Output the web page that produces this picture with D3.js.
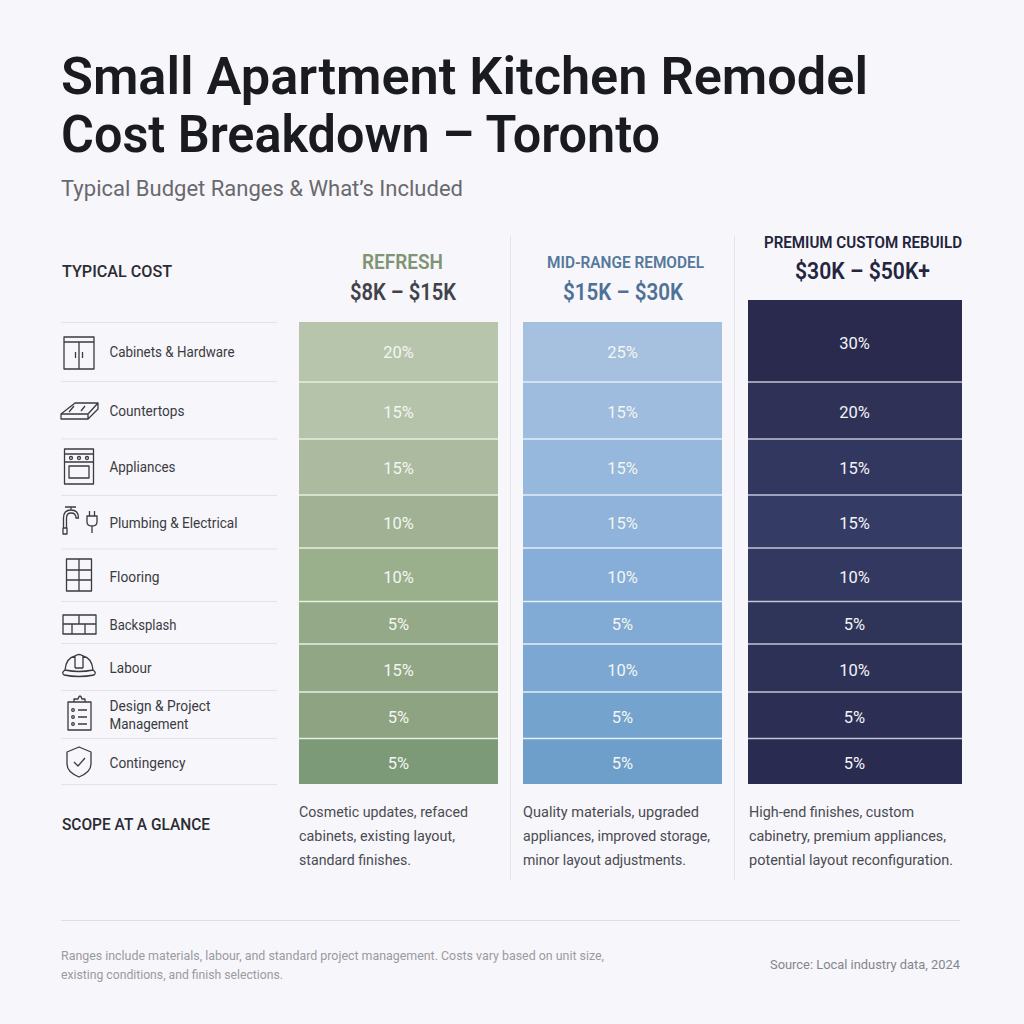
<!DOCTYPE html>
<html><head><meta charset="utf-8">
<script src="https://cdn.jsdelivr.net/npm/d3@7/dist/d3.min.js"></script>
<style>html,body{margin:0;padding:0;background:#f7f6fa}svg{display:block}text{font-family:Roboto,Inter,"Noto Sans",sans-serif}</style>
</head><body><svg id="c" width="1024" height="1024"></svg>
<script>
const categories=["Cabinets & Hardware","Countertops","Appliances","Plumbing & Electrical","Flooring","Backsplash","Labour","Design & Project|Management","Contingency"];
const refresh=[20,15,15,10,10,5,15,5,5];
const midRange=[25,15,15,15,10,5,10,5,5];
const premium=[30,20,15,15,10,5,10,5,5];
const tierNames=["REFRESH","MID-RANGE REMODEL","PREMIUM CUSTOM REBUILD"];
const tierCosts=["$8K – $15K","$15K – $30K","$30K – $50K+"];
const scopes=[["Cosmetic updates, refaced","cabinets, existing layout,","standard finishes."],["Quality materials, upgraded","appliances, improved storage,","minor layout adjustments."],["High-end finishes, custom","cabinetry, premium appliances,","potential layout reconfiguration."]];

const svg=d3.select("#c");
const rowEdges=[322,382,439,495,548,601.5,644,692,738.5,784];
const ruleEdges=[322.5,381.5,439,495.5,549,601.5,643.5,690.5,738.5,784.5];
const rowTop=d3.scaleOrdinal().domain(categories).range(rowEdges.slice(0,-1));
const rowBottom=d3.scaleOrdinal().domain(categories).range(rowEdges.slice(1));
const labelY=d3.scaleOrdinal().domain(categories).range([352,411,467,523,577,625,668,715,763]);
const pctY=d3.scaleOrdinal().domain(categories).range([352,412,468,523,577,624,670,717,763]);
const colX=d3.scaleOrdinal().domain(tierNames).range([299,523,748]);
const colW=d3.scaleOrdinal().domain(tierNames).range([199,199,214]);
const fills=[d3.scaleLinear().domain([0,1,2,3,4,5,7,8]).range(["#b8c5ad","#b5c3aa","#acba9f","#a0b293","#9ab08d","#93a987","#8ea382","#7d9a78"]),
 d3.scaleLinear().domain([0,4,8]).range(["#a5c1df","#87aed8","#6e9fcb"]),
 d3.scaleLinear().domain([0,1,3,5,8]).range(["#2a2a4e","#2f3157","#343c66","#2f3459","#2a2b50"])];
const textWidths={"Small Apartment Kitchen Remodel":807,"Cost Breakdown – Toronto":599,"Typical Budget Ranges & What’s Included":402,"TYPICAL COST":110,"SCOPE AT A GLANCE":148,
"Cabinets & Hardware":125,"Countertops":75,"Appliances":66,"Plumbing & Electrical":128,"Flooring":50,"Backsplash":67,"Labour":42,"Design & Project":101,"Management":79,"Contingency":76,
"Cosmetic updates, refaced":169,"cabinets, existing layout,":156,"standard finishes.":112,"Quality materials, upgraded":176,"appliances, improved storage,":187,"minor layout adjustments.":163,"High-end finishes, custom":165,"cabinetry, premium appliances,":197,"potential layout reconfiguration.":204,
"REFRESH":81,"$8K – $15K":106,"MID-RANGE REMODEL":157,"$15K – $30K":120,"PREMIUM CUSTOM REBUILD":198,"$30K – $50K+":135,
"Ranges include materials, labour, and standard project management. Costs vary based on unit size,":543,"existing conditions, and finish selections.":222,"Source: Local industry data, 2024":190};
const T=(x,y,s,size,fill,weight,anchor)=>{const t=svg.append("text").attr("x",x).attr("y",y).text(s).attr("font-size",size).attr("fill",fill).attr("font-weight",weight||400).attr("text-anchor",anchor||"start");
 if(textWidths[s])t.attr("textLength",textWidths[s]).attr("lengthAdjust","spacingAndGlyphs");return t;};

T(61,94,"Small Apartment Kitchen Remodel",52,"#1a1b20",600);
T(61,152,"Cost Breakdown – Toronto",52,"#1a1b20",600);
T(61,196,"Typical Budget Ranges & What’s Included",21.5,"#68696f",400);
T(62,277,"TYPICAL COST",16,"#2a2b33",500);
T(62,830,"SCOPE AT A GLANCE",16,"#2a2b33",500);

[[510.5,236,880],[734.5,236,880]].forEach(([x,a,b])=>svg.append("line").attr("x1",x).attr("x2",x).attr("y1",a).attr("y2",b).attr("stroke","#e4e4e8"));
svg.append("line").attr("x1",61).attr("x2",960).attr("y1",920.5).attr("y2",920.5).attr("stroke","#dfdfe3");
svg.selectAll("line.r").data(ruleEdges).join("line").attr("class","r").attr("x1",61).attr("x2",277).attr("y1",d=>d).attr("y2",d=>d).attr("stroke","#e3e3e7");

categories.forEach(c=>{
 const parts=c.split("|");
 parts.forEach((p,i)=>T(109.5,labelY(c)+5-(parts.length-1)*9+i*18,p,14.5,"#3a3b42"));
});

[refresh,midRange,premium].forEach((vals,k)=>{
 const name=tierNames[k];
 const g=svg.append("g");
 g.selectAll("rect").data(vals).join("rect")
  .attr("x",colX(name)).attr("width",colW(name))
  .attr("y",(d,i)=>(k==2&&i==0)?300:rowTop(categories[i]))
  .attr("height",(d,i)=>rowBottom(categories[i])-((k==2&&i==0)?300:rowTop(categories[i])))
  .attr("fill",(d,i)=>fills[k](i));
 g.selectAll("line").data(vals.slice(1)).join("line")
  .attr("x1",colX(name)).attr("x2",colX(name)+colW(name))
  .attr("y1",(d,i)=>rowTop(categories[i+1])).attr("y2",(d,i)=>rowTop(categories[i+1]))
  .attr("stroke",k==2?"#c3c5d8":k==1?"#e4eef6":"#e6f0e0").attr("stroke-width",1.3);
 g.selectAll("text").data(vals).join("text")
  .attr("x",colX(name)+colW(name)/2-(k==2?.5:0)).attr("text-anchor","middle")
  .attr("y",(d,i)=>((k==2&&i==0)?343:pctY(categories[i]))+6)
  .attr("font-size",16.5).attr("fill",k==2?"#f4f4f8":"#f3f6f1").text(d=>d+"%");
 scopes[k].forEach((s,i)=>T(colX(name)+(k==2?1:0),817+i*24,s,15,"#4a4b52"));
});

T(402.5,269,tierNames[0],20,"#7f9473",600,"middle");
T(403,300,tierCosts[0],23,"#42434a",600,"middle");
T(625.5,268,tierNames[1],16.5,"#55789c",600,"middle");
T(623,300,tierCosts[1],23,"#4f7196",600,"middle");
T(863,248,tierNames[2],16.5,"#23233c",600,"middle");
T(862.5,279,tierCosts[2],23,"#25253f",600,"middle");

T(61,960,"Ranges include materials, labour, and standard project management. Costs vary based on unit size,",12.8,"#9a9ba1");
T(61,979,"existing conditions, and finish selections.",12.8,"#9a9ba1");
T(960,969,"Source: Local industry data, 2024",12.8,"#85868c",400,"end");

const ic=svg.append("g").attr("fill","none").attr("stroke","#3a3b42").attr("stroke-width",1.3).attr("stroke-linejoin","round");
const P=d=>ic.append("path").attr("d",d);
P("M64 337H94V369H64ZM64 342H94M79 342V369M75.5 352V358M82.5 352V358");
P("M61 414L75 403H98V409L88 419H61ZM61 414H88L98 403M88 414V419M69 412L74 406M81 411L85 406");
P("M64.5 449H93.5V484H64.5ZM64.5 454H93.5M64.5 462H93.5M69 466H89V478H69Z");
ic.selectAll("circle.k").data([71,79,87]).join("circle").attr("class","k").attr("cx",d=>d).attr("cy",458).attr("r",1.5);
P("M63.5 528V518Q63.5 510 71 510Q78.5 510 78.5 518H76Q76 513 71 513Q66.5 513 66.5 518V528ZM63 528H67V534H63ZM71 510V507M65 507H76");
P("M87 516H97V522Q97 526 92 526Q87 526 87 522ZM89.5 516V511M94.5 516V511M92 526V533");
P("M66.5 559H91.5V591H66.5ZM79 559V591M66.5 570H91.5M66.5 580H91.5");
P("M63 615H96V634H63ZM63 624H96M79 615V624M72 624V634M85 624V634");
P("M65 670Q66 658 75 656V668M83 668V656Q92 658 93 670M75 656Q79 653 83 656M75 668H83M65 670Q61 673 64 675Q79 678 94 675Q97 673 93 670Q79 673 65 670Z");
P("M68 702H91V730H68ZM74 702V699H78Q79 696 80 696Q81 696 82 699H85V702H74M78 710H87M78 717H87M78 724H87");
ic.selectAll("circle.b").data([710,717,724]).join("circle").attr("class","b").attr("cx",73).attr("cy",d=>d).attr("r",1.3);
P("M79 747L91 752V764Q91 772 79 777Q67 772 67 764V752ZM74 762L78 766L85 758");
</script></body></html>
